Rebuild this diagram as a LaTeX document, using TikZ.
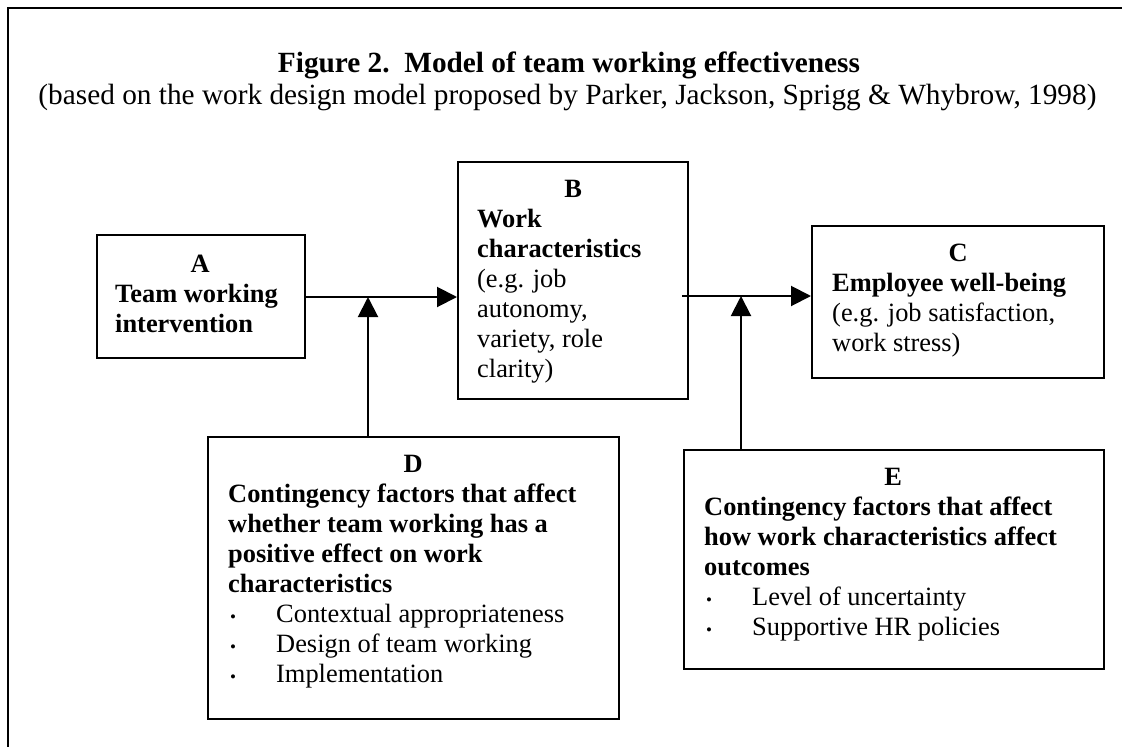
\documentclass[tikz,border=0pt]{standalone}
\usepackage{fontspec}
\setmainfont{Liberation Serif}
\usetikzlibrary{arrows.meta}
\begin{document}
\begin{tikzpicture}[x=1pt,y=-1pt,
  box/.style={draw, line width=2pt, rectangle, inner sep=0pt, anchor=north west},
  txt/.style={anchor=north west, inner sep=0pt, align=left, font=\fontsize{26.4pt}{30pt}\selectfont},
  ttl/.style={anchor=base, inner sep=0pt, font=\fontsize{29.3pt}{33pt}\selectfont},
  conn/.style={line width=2pt, -{Triangle[length=20pt,width=20pt]}},
  frame/.style={line width=2.5pt, line cap=rect}
]
\useasboundingbox (0,0) rectangle (1122,747);
% frame
\coordinate (fBL) at (8,760);
\coordinate (fTL) at (8,8);
\coordinate (fTR) at (1130,8);
\draw[frame] (fBL) -- (fTL) -- (fTR);
% title
\node[ttl] (title) at (569,72) {\textbf{Figure 2.\ \ Model of team working effectiveness}};
\node[ttl] (subtitle) at (567.5,104) {(based on the work design model proposed by Parker, Jackson, Sprigg \& Whybrow, 1998)};
% boxes
\node[box, minimum width=208pt, minimum height=123pt] (A) at (96,234) {};
\node[box, minimum width=230pt, minimum height=237pt] (B) at (457,161) {};
\node[box, minimum width=292pt, minimum height=152pt] (C) at (811,225) {};
\node[box, minimum width=411pt, minimum height=282pt] (D) at (207,436) {};
\node[box, minimum width=420pt, minimum height=219pt] (E) at (683,449) {};
% texts
\node[txt] (At) at (115,251) {\strut\makebox[170pt]{\textbf{A}}\\ \textbf{Team working}\\ \textbf{intervention}};
\node[txt] (Bt) at (477,176) {\strut\makebox[192pt]{\textbf{B}}\\ \textbf{Work}\\ \textbf{characteristics}\\ (e.g. job\\ autonomy,\\ variety, role\\ clarity)};
\node[txt] (Ct) at (832,240) {\strut\makebox[252pt]{\textbf{C}}\\ \textbf{Employee well-being}\\ (e.g. job satisfaction,\\ work stress)};
\newcommand{\bitem}[1]{\makebox[48pt][l]{\hspace{2pt}{\fontsize{17pt}{17pt}\selectfont •}}#1}
\node[txt] (Dt) at (228,451) {\strut\makebox[370pt]{\textbf{D}}\\ \textbf{Contingency factors that affect}\\ \textbf{whether team working has a}\\ \textbf{positive effect on work}\\ \textbf{characteristics}\\ \bitem{Contextual appropriateness}\\ \bitem{Design of team working}\\ \bitem{Implementation}};
\node[txt] (Et) at (704,464) {\strut\makebox[378pt]{\textbf{E}}\\ \textbf{Contingency factors that affect}\\ \textbf{how work characteristics affect}\\ \textbf{outcomes}\\ \bitem{Level of uncertainty}\\ \bitem{Supportive HR policies}};
% connectors
\coordinate (m1) at (368,297);
\coordinate (s2) at (682,296);
\coordinate (m2) at (741,296);
\draw[conn] (A.east |- m1) -- (B.west |- m1);
\draw[conn] (m1 |- D.north) -- (m1);
\draw[conn] (s2) -- (C.west |- s2);
\draw[conn] (m2 |- E.north) -- (m2);
\end{tikzpicture}
\end{document}
